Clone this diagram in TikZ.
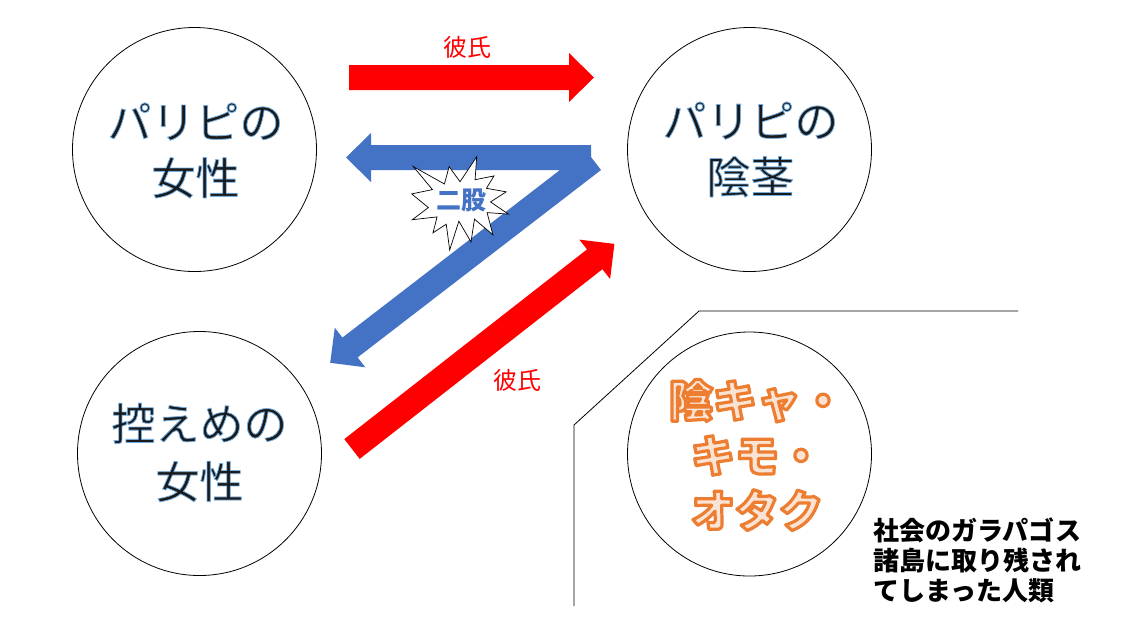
\documentclass[tikz,border=0pt]{standalone}
\usepackage{fontspec}
\newfontfamily\jp{Noto Sans CJK JP}
\definecolor{pred}{HTML}{FF0000}
\definecolor{pblue}{HTML}{4472C4}
\definecolor{shblue}{HTML}{5B9BD5}
\definecolor{ink}{HTML}{1A1A1A}
\definecolor{plight}{HTML}{FBE3D3}
\newcommand\blueedge[1]{\special{pdf:literal direct 0.45 0.68 0.88 RG 0.8 w 1 j 2 Tr}#1\special{pdf:literal direct 0 Tr}}
\newcommand\orangeedge[1]{\special{pdf:literal direct 0.929 0.490 0.192 RG 3.2 w 1 j 2 Tr}#1\special{pdf:literal direct 0 Tr}}
\tikzset{
  ring/.style={circle, draw=black, line width=0.8pt, minimum size=244pt, inner sep=0pt},
  bigtxt/.style={font=\jp\fontsize{44}{56}\selectfont, align=center, inner sep=0pt, text=ink},
  lbl/.style={font=\jp\fontsize{24}{28}\selectfont, text=pred, inner sep=0pt},
  redarrow/.style={fill=pred, draw=none},
  bluearrow/.style={fill=pblue, draw=none},
  burst/.style={fill=white, draw=black, line width=0.7pt, line join=miter},
  wall/.style={draw=black, line width=0.8pt},
}
\begin{document}
\begin{tikzpicture}[x=1pt,y=-1pt]
\path[use as bounding box, fill=white] (0,0) rectangle (1124,641);

% circles
\node[ring] (c1) at (194.5,149.5) {};
\node[ring] (c2) at (749.5,149.5) {};
\node[ring] (c3) at (199.5,453.5) {};
\node[ring] (c4) at (749.5,454) {};

% circle texts
\node[bigtxt] (t1) at (195.5,150.5) {\blueedge{パリピの\\女性}};
\node[bigtxt] (t2) at (750.5,149.5) {\blueedge{パリピの\\陰茎}};
\node[bigtxt, font=\jp\fontsize{44}{58}\selectfont] (t3) at (199.5,452.5) {\blueedge{控えめの\\女性}};

% orange text
\node[font=\jp\bfseries\fontsize{44}{55}\selectfont, align=center, inner sep=0pt, text=plight] (t4) at (757,455) {\orangeedge{陰キャ・\\キモ・\\オタク}};

% top red arrow
\path[redarrow] (349,65) -- (569,65) -- (569,53) -- (594,77.5) -- (569,102) -- (569,90) -- (349,90) -- cycle;
\node[lbl] (l1) at (467,47) {彼氏};

% blue Z arrow
\path[bluearrow] (346,157.5) -- (371,133) -- (371,145) -- (591,145) -- (591,157) -- (601,170)
  -- (357.6,357.4) -- (365.3,367.3) -- (330.2,362.8) -- (334.8,327.7) -- (342.4,337.6)
  -- (560,170) -- (371,170) -- (371,182) -- cycle;

% diagonal red arrow
\path[redarrow] (344.3,439.1) -- (587.0,249.4) -- (579.3,239.6) -- (614.4,243.9) -- (610.1,279.0) -- (602.4,269.2) -- (359.7,458.9) -- cycle;
\node[lbl] (l2) at (517,380) {彼氏};

% explosion
\begin{scope}[shift={(411.7,156.7)}, x=0.4477pt, y=-0.4319pt]
\path[burst] (108,58) -- (145.22,0) -- (141.55,53.25) -- (183.8,44.57) -- (167.02,73.15) -- (210.97,81.37)
  -- (176.07,104.75) -- (216,132.9) -- (168.37,129.42) -- (181.45,180.95) -- (140.2,144.57) -- (132.47,197.37)
  -- (105.32,149.35) -- (84.85,216) -- (77.15,156.27) -- (47.62,176.17) -- (56.67,139.37) -- (1.35,145.87)
  -- (37.22,117.75) -- (0,86.15) -- (46.27,76.17) -- (3.7,22.95) -- (73.12,63.2) -- (83.52,22.95) -- cycle;
\end{scope}
\node[font=\jp\bfseries\fontsize{25}{28}\selectfont, text=pblue, inner sep=0pt] (fut) at (461,200) {二股};

% wall line
\coordinate (w1) at (1018,311);
\coordinate (w2) at (699,311);
\coordinate (w3) at (574,425);
\coordinate (w4) at (574,606);
\draw[wall] (w1) -- (w2) -- (w3) -- (w4);

% caption
\node[font=\jp\bfseries\fontsize{26}{30}\selectfont, align=left, anchor=west, inner sep=0pt, text=black] (cap) at (873,560) {社会のガラパゴス\\諸島に取り残され\\てしまった人類};
\end{tikzpicture}
\end{document}
